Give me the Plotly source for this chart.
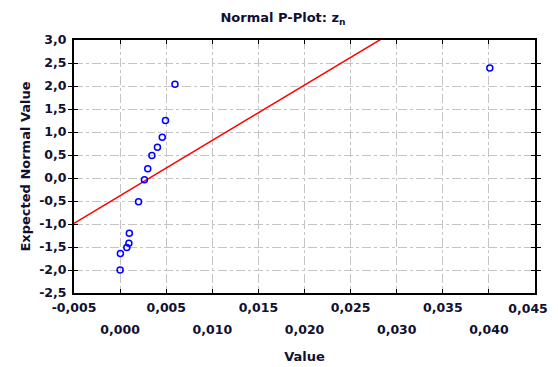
import plotly.graph_objects as go

# Data
values = [0.0000, 0.00003, 0.00073, 0.00095, 0.0010, 0.0020, 0.00264,
          0.0030, 0.00345, 0.00405, 0.00457, 0.00492, 0.00595, 0.0401]
expected = [-2.00, -1.64, -1.51, -1.42, -1.20, -0.515, -0.04,
            0.20, 0.49, 0.67, 0.885, 1.25, 2.04, 2.39]

fit_intercept = -0.384
fit_slope = 120.2
line_x = [-0.005, 0.045]
line_y = [fit_intercept + fit_slope * v for v in line_x]

x_ticks = [-0.005, 0.000, 0.005, 0.010, 0.015, 0.020, 0.025, 0.030, 0.035, 0.040, 0.045]
y_ticks = [-2.5, -2.0, -1.5, -1.0, -0.5, 0.0, 0.5, 1.0, 1.5, 2.0, 2.5, 3.0]

def fmt(v, d):
    return f"{v:.{d}f}".replace(".", ",")

x_upper = x_ticks[0:-1:2]      # upper row (last one handled separately at the edge)
x_edge = [x_ticks[-1]]
x_lower = x_ticks[1::2]
y_text = [fmt(v, 1) for v in y_ticks]

font_family = "DejaVu Sans, Arial, sans-serif"
text_color = "#101030"
tfont = dict(family=font_family, size=13, color=text_color)
bfont = dict(family=font_family, size=12.5, color=text_color, weight="bold")

fig = go.Figure()
fig.add_trace(go.Scatter(
    x=line_x, y=line_y, mode="lines",
    line=dict(color="#ff0000", width=1.5), showlegend=False, hoverinfo="skip"))
fig.add_trace(go.Scatter(
    x=values, y=expected, mode="markers",
    marker=dict(symbol="circle-open", color="#0000ff", size=6, line=dict(width=1.5)),
    showlegend=False))
# invisible traces carrying the extra label axes
for ax in ("x2", "x3"):
    fig.add_trace(go.Scatter(
        x=line_x, y=line_y, xaxis=ax, mode="lines", line=dict(width=0),
        opacity=0, showlegend=False, hoverinfo="skip"))

axis_common = dict(
    showline=True, linecolor="black", linewidth=2, mirror="allticks",
    ticks="inside", ticklen=4, tickcolor="black", tickwidth=1,
    showgrid=True, gridcolor="#c4c4c4", griddash="dashdot", gridwidth=1,
    zeroline=False, automargin=False,
    tickfont=bfont,
)
label_axis = dict(range=[-0.005, 0.045], overlaying="x", side="bottom", anchor="y",
                  ticks="", showgrid=False, showline=False, zeroline=False,
                  automargin=False, tickfont=bfont)

fig.update_layout(
    width=550, height=359,
    margin=dict(l=66, r=23, t=32, b=74),
    paper_bgcolor="white", plot_bgcolor="white",
    title=dict(text="<b>Normal P-Plot: z<sub>n</sub></b>", x=0.5, xanchor="center",
               y=0.985, yanchor="top", font=tfont, automargin=False),
    xaxis=dict(range=[-0.005, 0.045], tickvals=x_ticks,
               ticktext=[fmt(v, 3) if v in x_upper else "" for v in x_ticks],
               ticklabelstandoff=2, **axis_common),
    xaxis2=dict(tickvals=x_lower, ticktext=[fmt(v, 3) for v in x_lower],
                ticklabelstandoff=27,
                title=dict(text="<b>Value</b>", standoff=16, font=tfont),
                **label_axis),
    xaxis3=dict(tickvals=x_edge, ticktext=[fmt(v, 3) for v in x_edge],
                ticklabelstandoff=6, ticklabelshift=-7, **label_axis),
    yaxis=dict(range=[-2.5, 3.0], tickvals=y_ticks, ticktext=y_text,
               ticklabelstandoff=3,
               title=dict(text="<b>Expected Normal Value</b>", standoff=6, font=tfont),
               **axis_common),
)

fig.write_html("out.html")
